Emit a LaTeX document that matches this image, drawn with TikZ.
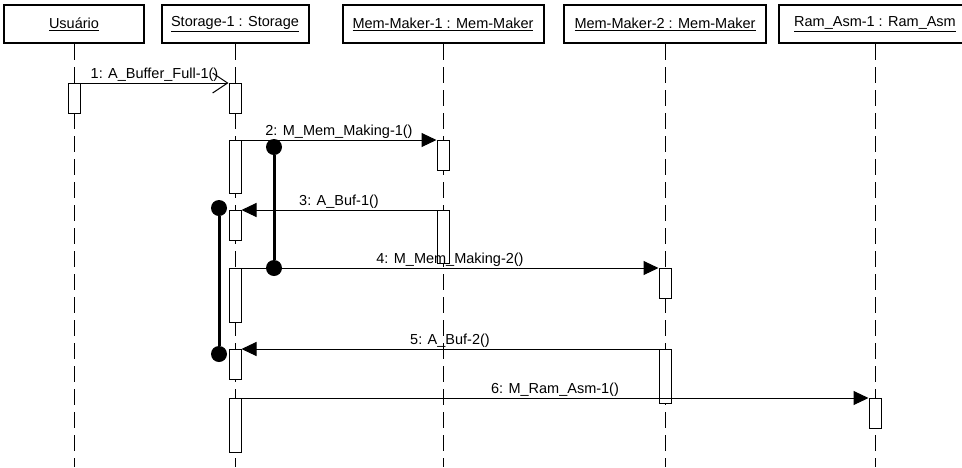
\documentclass[tikz,border=0pt]{standalone}
\usepackage{fontspec}
\setmainfont{Liberation Sans}
\usetikzlibrary{arrows.meta}

\begin{document}
\begin{tikzpicture}[x=1pt,y=-1pt,
  obj/.style={draw,line width=2pt,fill=white,minimum height=38pt,inner sep=0pt,font=\fontsize{14.5}{16}\selectfont},
  lifeline/.style={line width=1pt,dash pattern=on 16pt off 7pt},
  act/.style={draw,line width=1pt,fill=white,minimum width=12pt,inner sep=0pt,anchor=north},
  msg/.style={line width=1pt,-{Triangle[length=15pt,width=14pt]}},
  call/.style={line width=1pt,-{Straight Barb[length=15pt,width=20pt,line width=1pt]}},
  lbl/.style={anchor=base,yshift=5pt,inner sep=0pt,font=\fontsize{14.5}{16}\selectfont},
  dot/.style={circle,fill=black,minimum size=16pt,inner sep=0pt},
  bar/.style={line width=3pt}
]
\fill[white] (0,0) rectangle (962,467);
\useasboundingbox (0,0) rectangle (962,467);
\coordinate (bot) at (0,467);

\node[obj,minimum width=140pt] (usr) at (74,24) {\underline{Usuário}};
\node[obj,minimum width=147pt] (sto) at (235,24) {\underline{Storage-1 : Storage}};
\node[obj,minimum width=201pt] (mm1) at (443,24) {\underline{Mem-Maker-1 : Mem-Maker}};
\node[obj,minimum width=202pt] (mm2) at (665,24) {\underline{Mem-Maker-2 : Mem-Maker}};
\node[obj,minimum width=192pt] (ram) at (875,24) {\underline{Ram\_Asm-1 : Ram\_Asm}};

\draw[lifeline] (usr.south) -- (usr.south |- bot);
\draw[lifeline] (sto.south) -- (sto.south |- bot);
\draw[lifeline] (mm1.south) -- (mm1.south |- bot);
\draw[lifeline] (mm2.south) -- (mm2.south |- bot);
\draw[lifeline] (ram.south) -- (ram.south |- bot);

\node[act,minimum height=30pt] (u1) at (74,83) {};
\node[act,minimum height=30pt] (s1) at (235,83) {};
\node[act,minimum height=53pt] (s2) at (235,140) {};
\node[act,minimum height=30pt] (s3) at (235,210) {};
\node[act,minimum height=54pt] (s4) at (235,268) {};
\node[act,minimum height=30pt] (s5) at (235,349) {};
\node[act,minimum height=54pt] (s6) at (235,398) {};
\node[act,minimum height=30pt] (m1a) at (443,140) {};
\node[act,minimum height=53pt] (m1b) at (443,210) {};
\node[act,minimum height=30pt] (m2a) at (665,268) {};
\node[act,minimum height=54pt] (m2b) at (665,349) {};
\node[act,minimum height=30pt] (r1) at (875,398) {};

\draw[call] (u1.north east) -- node[lbl] {1: A\_Buffer\_Full-1()} (s1.north west);
\draw[msg] (s2.north east) -- node[lbl] {2: M\_Mem\_Making-1()} (m1a.north west);
\draw[msg] (m1b.north west) -- node[lbl] {3: A\_Buf-1()} (s3.north east);
\draw[msg] (s4.north east) -- node[lbl] {4: M\_Mem\_Making-2()} (m2a.north west);
\draw[msg] (m2b.north west) -- node[lbl] {5: A\_Buf-2()} (s5.north east);
\draw[msg] (s6.north east) -- node[lbl] {6: M\_Ram\_Asm-1()} (r1.north west);

\node[dot] (d1) at (274,147) {};
\node[dot] (d2) at (274,268) {};
\node[dot] (d3) at (219,208) {};
\node[dot] (d4) at (219,354) {};
\draw[bar] (d1) -- (d2);
\draw[bar] (d3) -- (d4);
\end{tikzpicture}
\end{document}
